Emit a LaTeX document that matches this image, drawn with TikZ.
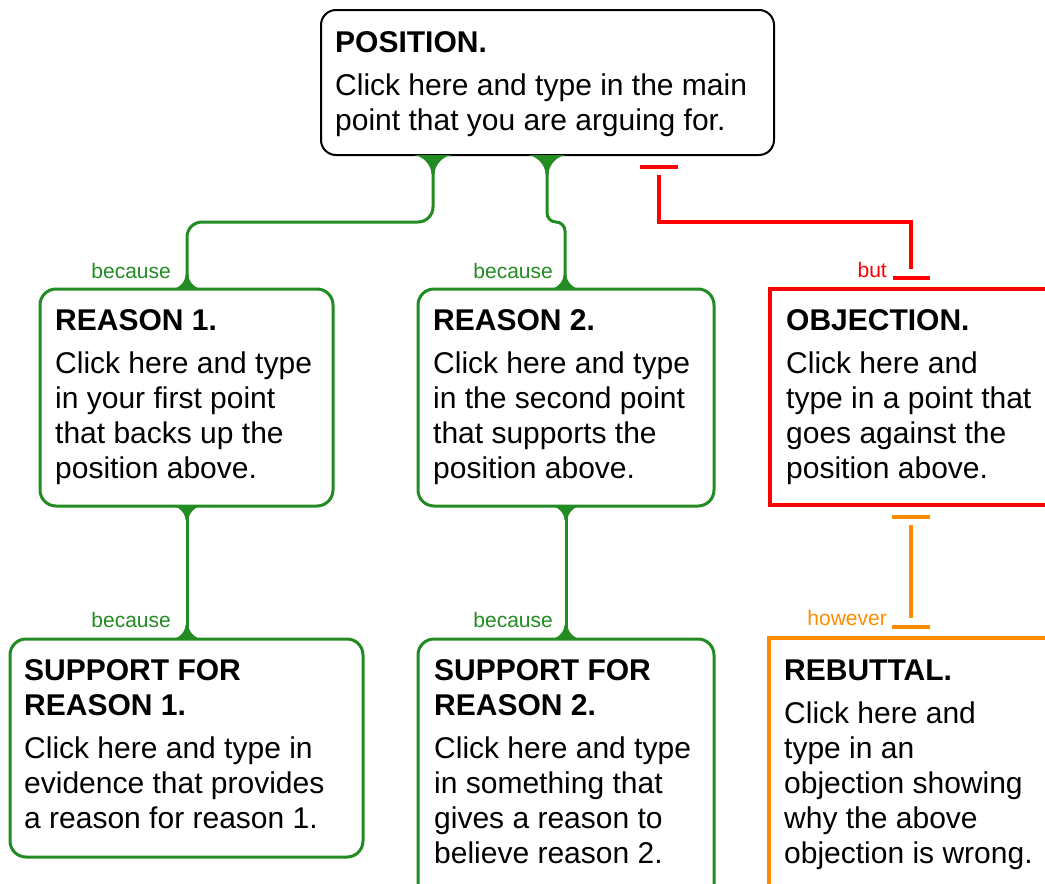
\documentclass[tikz,border=0pt]{standalone}
\usepackage{fontspec}
\setmainfont{Liberation Sans}
\definecolor{gr}{HTML}{228B22}
\definecolor{og}{HTML}{FF8C00}
\definecolor{rd}{HTML}{FF0000}
\newcommand\tline[1]{\hbox{#1}}
\newcommand\gflare[4]{% x, y, sign (+ down / - up), radius
  \fill[gr] (#1-#4-1.5,#2) .. controls (#1-1.5-0.5*#4,#2) and (#1-1.5,#2#3 0.5*#4) .. (#1-1.5,#2#3#4)
    -- (#1+1.5,#2#3#4) .. controls (#1+1.5,#2#3 0.5*#4) and (#1+1.5+0.5*#4,#2) .. (#1+#4+1.5,#2) -- cycle;}
\begin{document}
\begin{tikzpicture}[x=1pt,y=-1pt,
  bx/.style={anchor=north west, inner sep=0pt, outer sep=0pt},
  kbox/.style={bx, draw=black, line width=2pt, rounded corners=15pt},
  gbox/.style={bx, draw=gr, line width=3pt, rounded corners=16pt},
  rbox/.style={bx, draw=rd, line width=3.5pt},
  obox/.style={bx, draw=og, line width=3.5pt},
  txt/.style={anchor=base west, inner sep=0pt, font=\fontsize{30}{35}\selectfont},
  lab/.style={anchor=base east, inner sep=0pt, font=\fontsize{21}{24}\selectfont},
  gline/.style={draw=gr, line width=3pt},
  rline/.style={draw=rd, line width=4pt},
  oline/.style={draw=og, line width=4pt}]
\useasboundingbox (0,0) rectangle (1045,884);
\fill[white] (0,0) rectangle (1045,884);
\clip (0,0) rectangle (1045,884);

% boxes
\node[kbox, minimum width=453pt, minimum height=145pt] (pos) at (321,10) {};
\node[gbox, minimum width=293pt, minimum height=217pt] (r1) at (40,289) {};
\node[gbox, minimum width=296pt, minimum height=217pt] (r2) at (418,289) {};
\node[rbox, minimum width=300pt, minimum height=216pt] (obj) at (770,289) {};
\node[gbox, minimum width=353pt, minimum height=218pt] (s1) at (10,639) {};
\node[gbox, minimum width=296pt, minimum height=280pt] (s2) at (418,639) {};
\node[obox, minimum width=300pt, minimum height=300pt] (reb) at (769,638) {};

% texts
\node[txt] (tpos) at (335,52) {\vtop{\tline{\bfseries POSITION.}\vskip8pt
  \tline{Click here and type in the main}\tline{point that you are arguing for.}}};
\node[txt] (tr1) at (55,330) {\vtop{\tline{\bfseries REASON 1.}\vskip8pt
  \tline{Click here and type}\tline{in your first point}\tline{that backs up the}\tline{position above.}}};
\node[txt] (tr2) at (433,330) {\vtop{\tline{\bfseries REASON 2.}\vskip8pt
  \tline{Click here and type}\tline{in the second point}\tline{that supports the}\tline{position above.}}};
\node[txt] (tobj) at (786,330) {\vtop{\tline{\bfseries OBJECTION.}\vskip8pt
  \tline{Click here and}\tline{type in a point that}\tline{goes against the}\tline{position above.}}};
\node[txt] (ts1) at (24,680) {\vtop{\tline{\bfseries SUPPORT FOR}\tline{\bfseries REASON 1.}\vskip8pt
  \tline{Click here and type in}\tline{evidence that provides}\tline{a reason for reason 1.}}};
\node[txt] (ts2) at (434,680) {\vtop{\tline{\bfseries SUPPORT FOR}\tline{\bfseries REASON 2.}\vskip8pt
  \tline{Click here and type}\tline{in something that}\tline{gives a reason to}\tline{believe reason 2.}}};
\node[txt] (treb) at (784,680) {\vtop{\tline{\bfseries REBUTTAL.}\vskip8pt
  \tline{Click here and}\tline{type in an}\tline{objection showing}\tline{why the above}\tline{objection is wrong.}}};

% green connectors
\draw[gline, rounded corners=15pt] (433,0 |- pos.south) -- (433,222) -- (187,222) -- (187,0 |- r1.north);
\draw[gline, rounded corners=9pt] (547,0 |- pos.south) -- (547,222) -- (565,222) -- (565,0 |- r2.north);
\draw[gline] (187,0 |- r1.south) -- (187,0 |- s1.north);
\draw[gline] (566,0 |- r2.south) -- (566,0 |- s2.north);
\gflare{433}{155}{+}{19}
\gflare{547}{155}{+}{19}
\gflare{187}{289}{-}{14}
\gflare{565}{289}{-}{14}
\gflare{187}{506}{+}{14}
\gflare{187}{639}{-}{14}
\gflare{566}{506}{+}{14}
\gflare{566}{639}{-}{14}

% red connector (but)
\coordinate (ra) at (659,175);
\coordinate (rb) at (911,269);
\coordinate (rba1) at (640,167);
\coordinate (rba2) at (678,167);
\coordinate (rbb1) at (893,278);
\coordinate (rbb2) at (930,278);
\draw[rline] (ra) |- (911,222) -- (rb);
\draw[rline] (rba1) -- (rba2);
\draw[rline] (rbb1) -- (rbb2);

% orange connector (however)
\coordinate (oa) at (911,525);
\coordinate (ob) at (911,618);
\coordinate (oba1) at (892,517);
\coordinate (oba2) at (930,517);
\coordinate (obb1) at (892,627);
\coordinate (obb2) at (930,627);
\draw[oline] (oa) -- (ob);
\draw[oline] (oba1) -- (oba2);
\draw[oline] (obb1) -- (obb2);

% labels
\node[lab, text=gr] (l1) at (171,278) {because};
\node[lab, text=gr] (l2) at (553,278) {because};
\node[lab, text=rd] (l3) at (887,277) {but};
\node[lab, text=gr] (l4) at (171,627) {because};
\node[lab, text=gr] (l5) at (553,627) {because};
\node[lab, text=og] (l6) at (887,625) {however};
\end{tikzpicture}
\end{document}
